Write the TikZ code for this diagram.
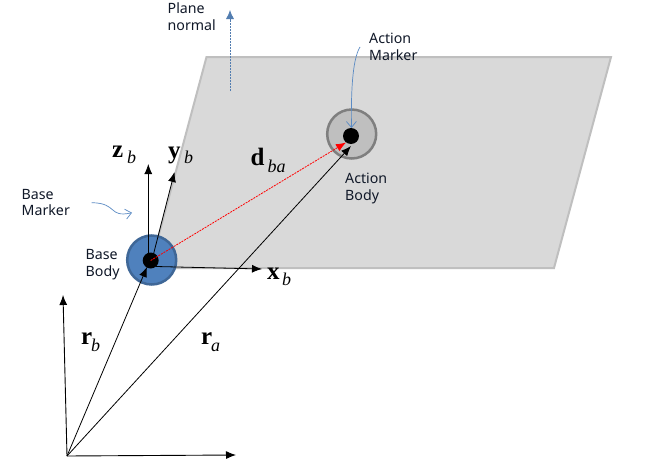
\documentclass[tikz,border=0pt]{standalone}
\usepackage{fontspec}
\setmainfont{Noto Sans}
\newfontfamily\symfont{Liberation Serif}
\usetikzlibrary{arrows.meta}
\definecolor{planefill}{HTML}{D9D9D9}
\definecolor{planeedge}{HTML}{BFBFBF}
\definecolor{basefill}{HTML}{4F81BD}
\definecolor{baseedge}{HTML}{3F6797}
\definecolor{actfill}{HTML}{BFBFBF}
\definecolor{actedge}{HTML}{7F7F7F}
\definecolor{callout}{HTML}{5B8BC4}
\definecolor{txt}{HTML}{101828}
\tikzset{
  vec/.style={black,line width=0.8pt,-{Latex[length=10pt,width=8pt]}},
  reddash/.style={red,line width=0.8pt,dash pattern=on 2pt off 1pt,-{Latex[length=10pt,width=8pt]}},
  bluedash/.style={callout!90!black,line width=0.8pt,dash pattern=on 2pt off 1pt,-{Latex[length=9pt,width=8pt]}},
  curvy/.style={callout,line width=0.7pt,-{Straight Barb[length=6pt,width=10pt]}},
  lbl/.style={inner sep=0pt,align=left,anchor=west,font=\fontsize{14.2}{17}\selectfont,text=txt},
  sym/.style={inner sep=0pt,anchor=base west,font=\symfont\fontsize{25}{25}\selectfont\bfseries},
  subsym/.style={inner sep=0pt,anchor=base west,font=\symfont\fontsize{18}{18}\selectfont\itshape},
  disk/.style={circle,minimum size=#1,inner sep=0pt,line width=2.5pt},
  dot/.style={circle,fill=black,minimum size=16pt,inner sep=0pt}
}
\begin{document}
\begin{tikzpicture}[x=1pt,y=-1pt]
\useasboundingbox (0,0) rectangle (649,463);
\fill[white] (0,0) rectangle (649,463);
\coordinate (P1) at (206.5,57);
\coordinate (P2) at (611,57);
\coordinate (P3) at (554,268);
\coordinate (P4) at (150,268);
\filldraw[fill=planefill,draw=planeedge,line width=2pt,line join=miter] (P1) -- (P2) -- (P3) -- (P4) -- cycle;

\node[disk=49pt,fill=basefill,draw=baseedge] (base) at (151.7,260) {};
\node[disk=49pt,fill=actfill,draw=actedge] (action) at (351.7,134) {};
\node[dot] (bm) at (150.7,260.5) {};
\node[dot] (am) at (351,136) {};

\coordinate (O) at (67,456);
\coordinate (OY) at (63,295);
\coordinate (OX) at (236,455);
\coordinate (zbot) at (148.3,260);
\coordinate (ybot) at (152,260);
\coordinate (xbot) at (155.7,266.5);
\coordinate (ztip) at (148.3,164);
\coordinate (ytip) at (174.5,172);
\coordinate (xtip) at (262,269);
\coordinate (rbtip) at (147,267);
\coordinate (ratip) at (351,146);
\coordinate (dtip) at (346,142.5);
\coordinate (nbot) at (230,91);
\coordinate (ntop) at (230,10);
\coordinate (ams) at (360,47);
\coordinate (ame) at (351.5,128);
\coordinate (bms) at (91.7,202.7);
\coordinate (bme) at (132,212.7);

\draw[vec,line width=0.9pt] (O) -- (OY);
\draw[vec,line width=0.9pt] (O) -- (OX);
\draw[vec] (O) -- (rbtip);
\draw[vec] (O) -- (ratip);
\draw[vec] (zbot) -- (ztip);
\draw[vec] (ybot) -- (ytip);
\draw[vec] (xbot) -- (xtip);
\draw[reddash] (bm.center) -- (dtip);
\draw[bluedash] (nbot) -- (ntop);
\draw[curvy] (ams) .. controls (352,60) and (351,95) .. (ame);
\draw[curvy] (bms) .. controls (118,203) and (108,218) .. (bme);

\node[lbl] (lplane) at (167.5,16.5) {Plane\\normal};
\node[lbl] (lam) at (369,47) {Action\\Marker};
\node[lbl] (lab) at (345,188) {Action\\Body};
\node[lbl] (lbm) at (21.5,202.5) {Base\\Marker};
\node[lbl] (lbb) at (85.5,265) {Base\\Body};

\node[sym] (zb) at (112,157) {z};
\node[subsym] (zbs) at (127,163) {b};
\node[sym] (yb) at (168,158) {y};
\node[subsym] (ybs) at (184,163) {b};
\node[sym] (dba) at (250.5,165) {d};
\node[subsym] (dbas) at (267.5,172) {ba};
\node[sym] (xb) at (267,279) {x};
\node[subsym] (xbs) at (282,285) {b};
\node[sym] (rb) at (81,344) {r};
\node[subsym] (rbs) at (91,351) {b};
\node[sym] (ra) at (201,344) {r};
\node[subsym] (ras) at (211,351) {a};
\end{tikzpicture}
\end{document}
